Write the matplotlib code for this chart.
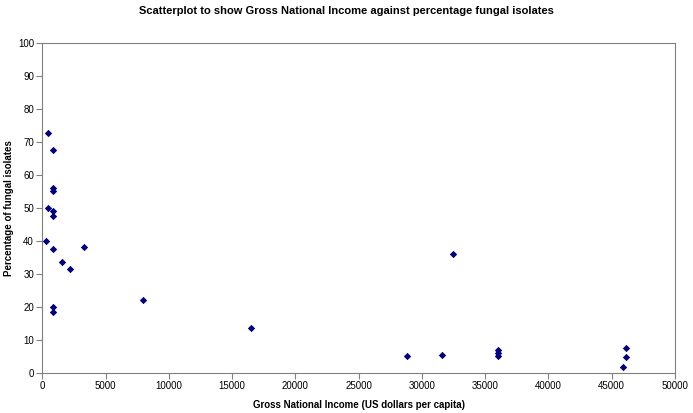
import matplotlib
matplotlib.use("Agg")
import matplotlib.pyplot as plt

gni = [450, 820, 820, 820, 450, 820, 820, 316, 820, 1530, 2190, 3270, 820, 820,
       7930, 16490, 28800, 31610, 32480, 35990, 35990, 35990, 46100, 46100, 45890]
fungal = [72.8, 67.5, 56.0, 55.2, 50.1, 49.1, 47.7, 40.1, 37.6, 33.7, 31.4, 38.1, 20.0, 18.4,
          22.2, 13.6, 5.2, 5.4, 36.2, 6.9, 6.0, 5.1, 7.7, 4.7, 1.7]

xticks = [0, 5000, 10000, 15000, 20000, 25000, 30000, 35000, 40000, 45000, 50000]
yticks = [0, 10, 20, 30, 40, 50, 60, 70, 80, 90, 100]

plt.rcParams['font.family'] = ['Liberation Sans', 'DejaVu Sans']

fig = plt.figure(figsize=(6.93, 4.13), dpi=100)
ax = fig.add_axes([42.3/693, 40/413, (675-42.3)/693, (373-43)/413])
ax.scatter(gni, fungal, marker='D', s=14, color='#000080', linewidths=0, zorder=3)
ax.set_xlim(0, 50000)
ax.set_ylim(0, 100)
ax.set_xticks(xticks)
ax.set_yticks(yticks)
ax.tick_params(labelsize=7, length=4, color='#808080', width=0.8, pad=2)
for s in ax.spines.values():
    s.set_color('#808080')
    s.set_linewidth(0.8)
ax.set_xlabel('Gross National Income (US dollars per capita)', fontsize=7, fontweight='bold', labelpad=6)
ax.set_ylabel('Percentage of fungal isolates', fontsize=7, fontweight='bold', labelpad=3)
fig.suptitle('Scatterplot to show Gross National Income against percentage fungal isolates',
             fontsize=8, fontweight='bold', y=0.985)
fig.savefig('out.png', dpi=100)
